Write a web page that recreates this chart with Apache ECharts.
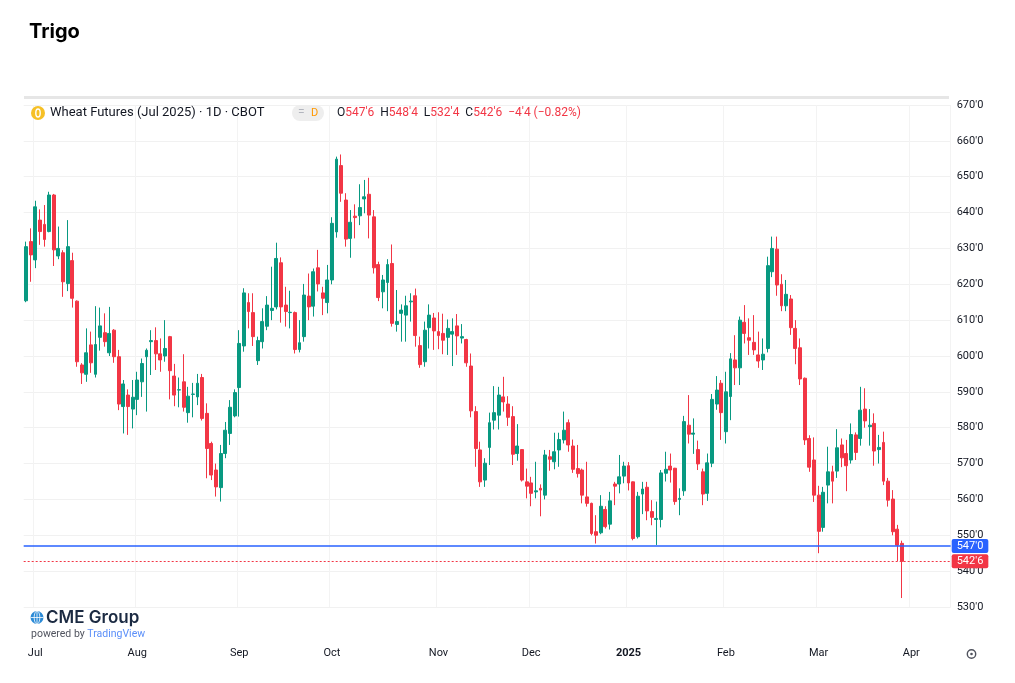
<!DOCTYPE html>
<html>
<head>
<meta charset="utf-8">
<title>Trigo</title>
<script src="https://cdn.jsdelivr.net/npm/echarts@6.0.0/dist/echarts.min.js"></script>
<style>
  html, body { margin: 0; padding: 0; background: #fff; }
  #chart { width: 1015px; height: 683px; }
</style>
</head>
<body>
<div id="chart"></div>
<script>
// trading days shown on the chart
const dates = [
  '2024-06-27','2024-06-28',
  '2024-07-01','2024-07-02','2024-07-03','2024-07-05','2024-07-08','2024-07-09','2024-07-10','2024-07-11','2024-07-12',
  '2024-07-15','2024-07-16','2024-07-17','2024-07-18','2024-07-19','2024-07-22','2024-07-23','2024-07-24','2024-07-25',
  '2024-07-26','2024-07-29','2024-07-30','2024-07-31',
  '2024-08-01','2024-08-02','2024-08-05','2024-08-06','2024-08-07','2024-08-08','2024-08-09','2024-08-12','2024-08-13',
  '2024-08-14','2024-08-15','2024-08-16','2024-08-19','2024-08-20','2024-08-21','2024-08-22','2024-08-23','2024-08-26',
  '2024-08-27','2024-08-28','2024-08-29','2024-08-30',
  '2024-09-03','2024-09-04','2024-09-05','2024-09-06','2024-09-09','2024-09-10','2024-09-11','2024-09-12','2024-09-13',
  '2024-09-16','2024-09-17','2024-09-18','2024-09-19','2024-09-20','2024-09-23','2024-09-24','2024-09-25','2024-09-26',
  '2024-09-27','2024-09-30',
  '2024-10-01','2024-10-02','2024-10-03','2024-10-04','2024-10-07','2024-10-08','2024-10-09','2024-10-10','2024-10-11',
  '2024-10-14','2024-10-15','2024-10-16','2024-10-17','2024-10-18','2024-10-21','2024-10-22','2024-10-23','2024-10-24',
  '2024-10-25','2024-10-28','2024-10-29','2024-10-30','2024-10-31',
  '2024-11-01','2024-11-04','2024-11-05','2024-11-06','2024-11-07','2024-11-08','2024-11-11','2024-11-12','2024-11-13',
  '2024-11-14','2024-11-15','2024-11-18','2024-11-19','2024-11-20','2024-11-21','2024-11-22','2024-11-25','2024-11-26',
  '2024-11-27','2024-11-29',
  '2024-12-02','2024-12-03','2024-12-04','2024-12-05','2024-12-06','2024-12-09','2024-12-10','2024-12-11','2024-12-12',
  '2024-12-13','2024-12-16','2024-12-17','2024-12-18','2024-12-19','2024-12-20','2024-12-23','2024-12-24','2024-12-26',
  '2024-12-27','2024-12-30','2024-12-31',
  '2025-01-02','2025-01-03','2025-01-06','2025-01-07','2025-01-08','2025-01-09','2025-01-10','2025-01-13','2025-01-14',
  '2025-01-15','2025-01-16','2025-01-17','2025-01-21','2025-01-22','2025-01-23','2025-01-24','2025-01-27','2025-01-28',
  '2025-01-29','2025-01-30','2025-01-31',
  '2025-02-03','2025-02-04','2025-02-05','2025-02-06','2025-02-07','2025-02-10','2025-02-11','2025-02-12','2025-02-13',
  '2025-02-14','2025-02-17','2025-02-18','2025-02-19','2025-02-20','2025-02-21','2025-02-24','2025-02-25','2025-02-26',
  '2025-02-27','2025-02-28',
  '2025-03-03','2025-03-04','2025-03-05','2025-03-06','2025-03-07','2025-03-10','2025-03-11','2025-03-12','2025-03-13',
  '2025-03-14','2025-03-17','2025-03-18','2025-03-19','2025-03-20','2025-03-21','2025-03-24','2025-03-25','2025-03-26',
  '2025-03-27'
];
// empty space to the right of the last bar
const futureDates = [
  '2025-03-31','2025-04-01','2025-04-02','2025-04-03','2025-04-04',
  '2025-04-07','2025-04-08','2025-04-09','2025-04-10','2025-04-11'
];

// prices in cents per bushel
const openPrices = [
  615.4, 631.9, 626.8, 637.9, 636.7, 634.7, 644.9, 627.9, 628.8, 620.2,
  626.6, 615.3, 597.5, 594.9, 603.1, 594.9, 605.2, 606.5, 600.9, 607.2,
  599.8, 585.9, 589.1, 585.2, 587.9, 592.8, 599.8, 604.0, 604.3, 600.6,
  600.0, 605.4, 594.4, 590.5, 592.8, 584.2, 589.3, 588.6, 594.0, 584.0,
  575.6, 568.2, 563.3, 572.8, 578.4, 583.3, 591.2, 602.8, 614.9, 612.1,
  598.7, 604.0, 608.3, 612.7, 613.7, 626.0, 614.2, 612.1, 612.1, 601.8,
  605.4, 616.7, 613.9, 624.6, 617.6, 614.9, 621.2, 634.6, 653.1, 643.5,
  632.8, 639.0, 639.1, 643.8, 645.1, 638.8, 625.5, 617.9, 620.5, 625.8,
  608.8, 611.9, 611.4, 615.1, 616.8, 602.9, 598.4, 607.9, 610.6, 606.8,
  606.3, 605.2, 606.1, 608.4, 605.0, 604.6, 597.2, 584.5, 573.8, 565.4,
  574.5, 582.1, 583.5, 588.6, 586.6, 583.1, 572.8, 573.9, 564.9, 564.6,
  562.1, 563.1, 561.2, 571.9, 570.5, 573.8, 576.6, 581.4, 574.9, 568.6,
  568.2, 560.7, 558.9, 551.0, 550.7, 557.2, 553.1, 564.3, 564.3, 566.5,
  569.4, 564.9, 549.6, 561.5, 563.4, 556.6, 554.4, 554.4, 567.3, 569.3,
  568.7, 560.0, 562.4, 580.7, 578.2, 573.9, 567.7, 561.7, 570.1, 586.6,
  592.4, 578.9, 588.7, 598.9, 596.7, 609.4, 605.1, 603.8, 600.3, 598.9,
  602.1, 623.5, 629.8, 620.0, 614.0, 615.9, 607.7, 602.3, 593.8, 577.0,
  571.0, 561.2, 552.2, 564.0, 567.7, 567.9, 575.2, 572.8, 571.0, 578.0,
  577.0, 585.2, 580.3, 581.2, 573.9, 575.9, 565.1, 560.1, 551.7, 547.75
];
const closePrices = [
  630.5, 628.2, 641.6, 634.7, 632.5, 644.9, 629.6, 630.0, 620.7, 630.5,
  616.1, 598.4, 595.3, 600.9, 598.1, 603.2, 608.4, 604.0, 606.3, 599.8,
  586.6, 592.2, 585.9, 588.5, 593.3, 597.9, 601.6, 604.3, 600.6, 598.9,
  602.1, 595.9, 589.1, 590.6, 585.7, 588.8, 589.4, 592.4, 582.6, 574.2,
  566.8, 563.5, 572.8, 579.3, 585.7, 589.8, 603.5, 617.6, 612.4, 605.4,
  604.3, 609.6, 614.2, 613.3, 627.2, 613.7, 612.4, 612.2, 601.8, 603.7,
  617.0, 613.7, 623.5, 620.1, 616.1, 621.2, 637.0, 654.9, 645.4, 632.6,
  637.3, 638.6, 641.4, 644.4, 639.3, 624.6, 616.3, 621.2, 625.5, 609.1,
  609.6, 612.8, 614.0, 615.3, 605.7, 597.6, 607.2, 611.4, 607.0, 605.7,
  604.4, 607.7, 606.8, 605.6, 605.4, 598.1, 584.7, 574.2, 564.9, 570.1,
  581.4, 584.2, 589.1, 587.2, 582.9, 572.6, 574.9, 565.4, 563.7, 561.7,
  562.4, 562.6, 572.4, 571.2, 573.3, 576.7, 579.3, 575.2, 568.4, 567.2,
  561.2, 558.9, 550.5, 550.0, 558.1, 552.4, 559.6, 563.7, 566.3, 569.3,
  564.6, 549.1, 560.9, 562.9, 556.8, 555.0, 554.7, 567.4, 568.4, 568.2,
  559.4, 560.3, 581.7, 578.2, 578.5, 569.9, 561.5, 570.2, 587.9, 590.5,
  584.2, 590.0, 599.2, 596.7, 610.0, 606.3, 604.4, 601.7, 598.6, 600.5,
  625.2, 630.0, 619.8, 614.0, 617.2, 607.9, 602.1, 593.6, 576.6, 569.0,
  561.2, 551.1, 562.0, 567.7, 565.1, 574.4, 571.6, 569.4, 578.1, 573.1,
  584.9, 581.9, 580.7, 573.5, 574.5, 565.1, 559.8, 551.0, 547.25, 542.75
];
const lowPrices = [
  615.0, 620.7, 624.5, 631.0, 630.5, 634.5, 625.1, 627.0, 616.5, 618.1,
  613.5, 597.0, 592.2, 592.8, 595.3, 594.0, 601.5, 602.6, 600.0, 598.1,
  584.9, 578.4, 578.0, 579.8, 583.5, 588.6, 584.5, 594.7, 596.1, 595.6,
  598.4, 587.9, 586.0, 585.7, 584.5, 581.4, 582.9, 586.3, 582.0, 565.9,
  565.4, 560.8, 559.4, 571.5, 575.2, 582.9, 583.1, 601.2, 607.7, 602.8,
  597.5, 602.1, 607.2, 610.0, 613.0, 609.3, 608.2, 607.7, 600.7, 601.0,
  604.0, 610.0, 611.0, 618.0, 611.4, 611.9, 620.0, 633.0, 643.0, 630.5,
  627.4, 632.8, 636.5, 639.8, 632.8, 623.0, 615.3, 613.3, 612.5, 608.2,
  606.8, 604.0, 604.0, 609.6, 602.6, 596.7, 597.0, 602.1, 601.7, 601.9,
  600.5, 600.3, 597.2, 600.3, 603.5, 597.0, 582.9, 569.1, 563.5, 563.5,
  569.6, 579.5, 579.5, 584.5, 580.5, 569.6, 570.8, 565.0, 560.3, 558.1,
  560.3, 555.3, 560.0, 568.0, 568.4, 569.1, 575.6, 573.3, 567.4, 566.1,
  558.9, 558.0, 550.0, 547.7, 550.3, 551.9, 551.6, 558.4, 561.7, 564.5,
  562.5, 548.6, 549.1, 555.9, 554.2, 552.8, 547.3, 552.2, 565.0, 564.7,
  558.5, 555.6, 561.0, 575.6, 572.7, 568.2, 558.4, 559.6, 569.0, 585.0,
  576.6, 575.6, 582.1, 591.9, 591.9, 603.5, 600.3, 600.3, 596.7, 596.1,
  601.0, 622.0, 616.8, 612.5, 612.5, 605.9, 597.7, 591.9, 575.2, 567.7,
  559.3, 545.0, 551.0, 558.9, 558.9, 566.0, 569.0, 562.3, 570.0, 571.0,
  575.0, 580.0, 575.0, 569.4, 570.0, 564.0, 558.0, 550.0, 542.8, 532.5
];
const highPrices = [
  631.9, 635.6, 643.3, 640.9, 642.1, 645.8, 645.2, 636.1, 629.5, 637.9,
  628.8, 615.5, 598.0, 607.7, 606.8, 613.9, 613.5, 611.9, 613.7, 607.5,
  601.7, 593.3, 590.7, 593.3, 595.6, 599.3, 602.1, 607.2, 608.0, 604.9,
  610.0, 605.6, 597.8, 594.0, 600.5, 591.4, 592.5, 595.0, 595.0, 586.8,
  576.1, 570.0, 575.2, 581.6, 587.7, 590.7, 607.2, 618.9, 617.5, 617.5,
  605.4, 613.3, 616.7, 624.9, 631.6, 627.5, 619.3, 618.2, 612.4, 610.0,
  620.1, 623.0, 624.4, 629.6, 619.3, 625.4, 638.7, 655.6, 656.2, 645.4,
  640.7, 642.3, 647.9, 649.1, 649.7, 640.7, 626.3, 622.6, 627.0, 631.1,
  618.4, 614.4, 616.8, 617.5, 618.8, 605.4, 609.6, 614.4, 612.0, 612.2,
  611.8, 610.2, 610.5, 611.7, 608.9, 604.8, 600.7, 586.0, 576.1, 571.5,
  584.2, 591.6, 591.4, 594.2, 588.8, 586.0, 581.0, 574.0, 568.6, 566.3,
  570.5, 564.2, 573.8, 573.8, 578.6, 578.6, 584.5, 582.3, 576.7, 575.2,
  568.6, 570.5, 559.1, 555.6, 561.2, 558.1, 562.1, 564.9, 572.4, 570.5,
  570.4, 565.0, 562.1, 564.9, 564.9, 559.8, 559.4, 568.2, 573.3, 572.8,
  568.8, 563.1, 583.3, 589.1, 582.6, 576.4, 568.6, 572.8, 589.4, 594.4,
  593.3, 595.6, 600.8, 605.8, 611.0, 614.2, 610.5, 611.4, 606.8, 604.9,
  627.7, 633.3, 633.3, 622.8, 621.2, 617.0, 610.0, 604.9, 594.0, 577.9,
  577.3, 563.8, 563.5, 574.7, 569.4, 579.6, 577.0, 576.6, 581.2, 578.7,
  591.4, 591.0, 585.2, 584.0, 578.0, 578.9, 566.0, 562.6, 552.9, 548.5
];

// horizontal line drawn on the chart, and the price axis range
const alertLevel = 547;
const priceMin = 530;
const priceMax = 670;
const priceStep = 10;
const monthNames = ['Jan','Feb','Mar','Apr','May','Jun','Jul','Aug','Sep','Oct','Nov','Dec'];

const UP = '#089981';
const DOWN = '#f23645';
const TEXT = '#131722';
const FONT = 'Roboto, "Noto Sans", sans-serif';

// 547.75 -> "547'6" (eighths of a cent)
function fmtPrice(v) {
  let whole = Math.floor(v + 1e-9);
  let eighths = Math.round((v - whole) * 8);
  if (eighths === 8) { whole += 1; eighths = 0; }
  return whole + "'" + eighths;
}

const categories = dates.concat(futureDates);
const candles = dates.map((d, i) => [openPrices[i], closePrices[i], lowPrices[i], highPrices[i]]);

function isMonthStart(index) {
  if (index === 0) return false;
  return categories[index].slice(0, 7) !== categories[index - 1].slice(0, 7);
}

// header values from the last bar
const n = dates.length - 1;
const lastClose = closePrices[n];
const change = lastClose - closePrices[n - 1];
const changePct = change / closePrices[n - 1] * 100;
const ohlcText =
  'O{v|' + fmtPrice(openPrices[n]) + '}  H{v|' + fmtPrice(highPrices[n]) +
  '}  L{v|' + fmtPrice(lowPrices[n]) + '}  C{v|' + fmtPrice(lastClose) +
  '}  {v|' + (change < 0 ? '\u2212' : '+') + fmtPrice(Math.abs(change)) +
  ' (' + (change < 0 ? '\u2212' : '+') + Math.abs(changePct).toFixed(2) + '%)}';

const chart = echarts.init(document.getElementById('chart'), null, { renderer: 'canvas' });

const option = {
  animation: false,
  backgroundColor: '#ffffff',
  title: {
    text: 'Trigo',
    left: 24,
    top: 17,
    textStyle: { fontFamily: 'Inter, "DejaVu Sans", sans-serif', fontSize: 20, fontWeight: 'bold', color: '#000' }
  },
  grid: { left: 23.68, right: 64.32, top: 105, bottom: 76 },
  xAxis: {
    type: 'category',
    data: categories,
    boundaryGap: true,
    axisLine: { show: false },
    axisTick: { show: false },
    axisLabel: {
      interval: isMonthStart,
      margin: 41,
      color: TEXT,
      fontFamily: FONT,
      fontSize: 11,
      formatter: function (value) {
        const m = +value.slice(5, 7);
        if (m === 1) return '{b|' + value.slice(0, 4) + '}';
        return monthNames[m - 1];
      },
      rich: { b: { fontWeight: 'bold', fontFamily: FONT, fontSize: 11, color: TEXT } }
    },
    splitLine: { show: true, interval: isMonthStart, lineStyle: { color: '#f3f3f3', width: 1 } }
  },
  yAxis: {
    type: 'value',
    position: 'right',
    min: priceMin,
    max: priceMax,
    interval: priceStep,
    scale: true,
    axisLine: { show: false },
    axisTick: { show: false },
    axisLabel: { formatter: fmtPrice, color: TEXT, fontFamily: FONT, fontSize: 11, margin: 6 },
    splitLine: { lineStyle: { color: '#f1f1f1', width: 1 } }
  },
  series: [{
    type: 'candlestick',
    name: 'Wheat Futures',
    data: candles,
    barWidth: 3.4,
    itemStyle: {
      color: UP, color0: DOWN,
      borderColor: UP, borderColor0: DOWN,
      borderWidth: 1
    },
    markLine: {
      silent: true,
      symbol: ['none', 'none'],
      animation: false,
      data: [
        {
          yAxis: alertLevel,
          lineStyle: { color: '#2962ff', width: 1.5, type: 'solid', opacity: 1 },
          label: {
            show: true, position: 'end', distance: 1,
            formatter: function (p) { return fmtPrice(p.value); },
            color: '#fff', backgroundColor: '#2962ff',
            padding: [2, 5, 1, 5], borderRadius: 2,
            fontFamily: FONT, fontSize: 11
          }
        },
        {
          yAxis: lastClose,
          lineStyle: { color: DOWN, width: 1, type: [2, 2], opacity: 1 },
          label: {
            show: true, position: 'end', distance: 1,
            formatter: function (p) { return fmtPrice(p.value); },
            color: '#fff', backgroundColor: DOWN,
            padding: [2, 5, 1, 5], borderRadius: 2,
            fontFamily: FONT, fontSize: 11
          }
        }
      ]
    }
  }],
  graphic: [
    // top border of the widget
    { type: 'rect', shape: { x: 24, y: 96, width: 925, height: 3 }, style: { fill: '#e6e6e6' }, silent: true },
    // symbol icon
    { type: 'circle', shape: { cx: 38, cy: 113, r: 7 }, style: { fill: '#f6c026' }, z: 10 },
    { type: 'ellipse', shape: { cx: 38, cy: 113, rx: 2.2, ry: 4 }, style: { fill: 'none', stroke: '#fff', lineWidth: 1.4 }, z: 11 },
    {
      type: 'text', x: 50, y: 113, z: 10,
      style: { text: 'Wheat Futures (Jul 2025) \u00b7 1D \u00b7 CBOT', font: '13px ' + FONT, fill: TEXT, verticalAlign: 'middle' }
    },
    { type: 'rect', shape: { x: 292, y: 105, width: 32, height: 16, r: 8 }, style: { fill: '#eeeeee' }, z: 10 },
    { type: 'text', x: 298, y: 113, z: 11, style: { text: '=', font: '12px ' + FONT, fill: '#b2b5be', verticalAlign: 'middle' } },
    { type: 'text', x: 311, y: 113, z: 11, style: { text: 'D', font: '11px ' + FONT, fill: '#ff9800', verticalAlign: 'middle' } },
    {
      type: 'text', x: 337, y: 113, z: 10,
      style: {
        text: ohlcText, font: '12px ' + FONT, fill: TEXT, verticalAlign: 'middle',
        rich: { v: { fill: DOWN, fontSize: 12, fontFamily: FONT } }
      }
    },
    // CME Group / TradingView mark
    { type: 'circle', shape: { cx: 37, cy: 617.5, r: 6.5 }, style: { fill: '#2b8ad6' }, z: 10 },
    { type: 'ellipse', shape: { cx: 37, cy: 617.5, rx: 2.8, ry: 6.5 }, style: { fill: 'none', stroke: '#fff', lineWidth: 0.8 }, z: 11 },
    { type: 'line', shape: { x1: 30.5, y1: 617.5, x2: 43.5, y2: 617.5 }, style: { stroke: '#fff', lineWidth: 0.8 }, z: 11 },
    { type: 'line', shape: { x1: 37, y1: 611, x2: 37, y2: 624 }, style: { stroke: '#fff', lineWidth: 0.8 }, z: 11 },
    {
      type: 'text', x: 46, y: 618, z: 10,
      style: { text: 'CME Group', font: '600 17px Inter, ' + FONT, fill: '#1b2a42', verticalAlign: 'middle' }
    },
    {
      type: 'text', x: 31, y: 634, z: 10,
      style: {
        text: 'powered by {t|TradingView}', font: '10.5px ' + FONT, fill: '#50535e', verticalAlign: 'middle',
        rich: { t: { fill: '#5b8ff9', fontSize: 10.5, fontFamily: FONT } }
      }
    },
    // settings icon
    { type: 'circle', shape: { cx: 971.5, cy: 654, r: 4.2 }, style: { fill: 'none', stroke: '#50535e', lineWidth: 1.4 }, z: 10 },
    { type: 'circle', shape: { cx: 971.5, cy: 654, r: 1.3 }, style: { fill: '#50535e' }, z: 10 }
  ]
};

chart.setOption(option);
window.addEventListener('resize', () => chart.resize());
</script>
</body>
</html>
